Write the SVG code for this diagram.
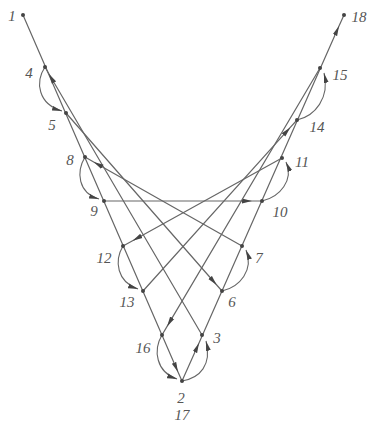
<svg xmlns="http://www.w3.org/2000/svg" width="374" height="432" viewBox="0 0 374 432">
<defs>
<marker id="ar" viewBox="0 0 10 6" refX="10" refY="3" markerWidth="10" markerHeight="6" markerUnits="userSpaceOnUse" orient="auto">
<path d="M0,0.6 L10,3 L0,5.4 z" fill="#444"/>
</marker>
</defs>
<style>
.ln{fill:none;stroke:#666;stroke-width:1.2;marker-mid:url(#ar)}
.arc{fill:none;stroke:#666;stroke-width:1.1;marker-end:url(#ar)}
.pt{fill:#444}
text{font-family:"Liberation Serif","DejaVu Serif",serif;font-style:italic;font-size:15px;fill:#555;text-anchor:middle}
</style>
<rect width="374" height="432" fill="#fff"/>
<g id="connectors">
<path class="ln" d="M23,15 L178,372 L182,381"/>
<path class="ln" d="M202,335 L49,74 L45,67"/>
<path class="ln" d="M66,113 L216.7,285 L222,291"/>
<path class="ln" d="M242,246 L93.7,161.9 L85,157"/>
<path class="ln" d="M104,201 L252,201 L262,201"/>
<path class="ln" d="M282,158 L132.6,240.7 L123,246"/>
<path class="ln" d="M143,291 L290.3,127.4 L297,120"/>
<path class="ln" d="M320,68 L167.1,326.4 L162,335"/>
<path class="ln" d="M182,381 L199,343 L339,26 L344,15"/>
<path class="arc" d="M45,67 C35,82 38,104 62,111"/>
<path class="arc" d="M85,157 C76,172 78,193 99,199"/>
<path class="arc" d="M123,246 C114,261 117,282 138,289"/>
<path class="arc" d="M162,335 C153,350 156,372 177,379"/>
<path class="arc" d="M182,381 C200,378 212,365 206,341"/>
<path class="arc" d="M222,291 C240,287 254,270 246,250"/>
<path class="arc" d="M262,201 C280,197 294,180 286,162"/>
<path class="arc" d="M297,120 C315,116 330,98 324,73"/>
</g>
<g id="n1"><circle class="pt" cx="23" cy="15" r="2"/><text x="12" y="21">1</text></g>
<g id="n4"><circle class="pt" cx="45" cy="67" r="2"/><text x="29" y="78">4</text></g>
<g id="n5"><circle class="pt" cx="66" cy="113" r="2"/><text x="52" y="130">5</text></g>
<g id="n8"><circle class="pt" cx="85" cy="157" r="2"/><text x="70" y="165">8</text></g>
<g id="n9"><circle class="pt" cx="104" cy="201" r="2"/><text x="94" y="216">9</text></g>
<g id="n12"><circle class="pt" cx="123" cy="246" r="2"/><text x="104" y="263">12</text></g>
<g id="n13"><circle class="pt" cx="143" cy="291" r="2"/><text x="127" y="307">13</text></g>
<g id="n16"><circle class="pt" cx="162" cy="335" r="2"/><text x="143" y="353">16</text></g>
<g id="n2"><circle class="pt" cx="182" cy="381" r="2"/><text x="181" y="403">2</text><text x="182" y="420">17</text></g>
<g id="n3"><circle class="pt" cx="202" cy="335" r="2"/><text x="217" y="343">3</text></g>
<g id="n6"><circle class="pt" cx="222" cy="291" r="2"/><text x="232" y="307">6</text></g>
<g id="n7"><circle class="pt" cx="242" cy="246" r="2"/><text x="259" y="263">7</text></g>
<g id="n10"><circle class="pt" cx="262" cy="201" r="2"/><text x="280" y="217">10</text></g>
<g id="n11"><circle class="pt" cx="282" cy="158" r="2"/><text x="302" y="167">11</text></g>
<g id="n14"><circle class="pt" cx="297" cy="120" r="2"/><text x="317" y="132">14</text></g>
<g id="n15"><circle class="pt" cx="320" cy="68" r="2"/><text x="340" y="80">15</text></g>
<g id="n18"><circle class="pt" cx="344" cy="15" r="2"/><text x="359" y="22">18</text></g>
</svg>
